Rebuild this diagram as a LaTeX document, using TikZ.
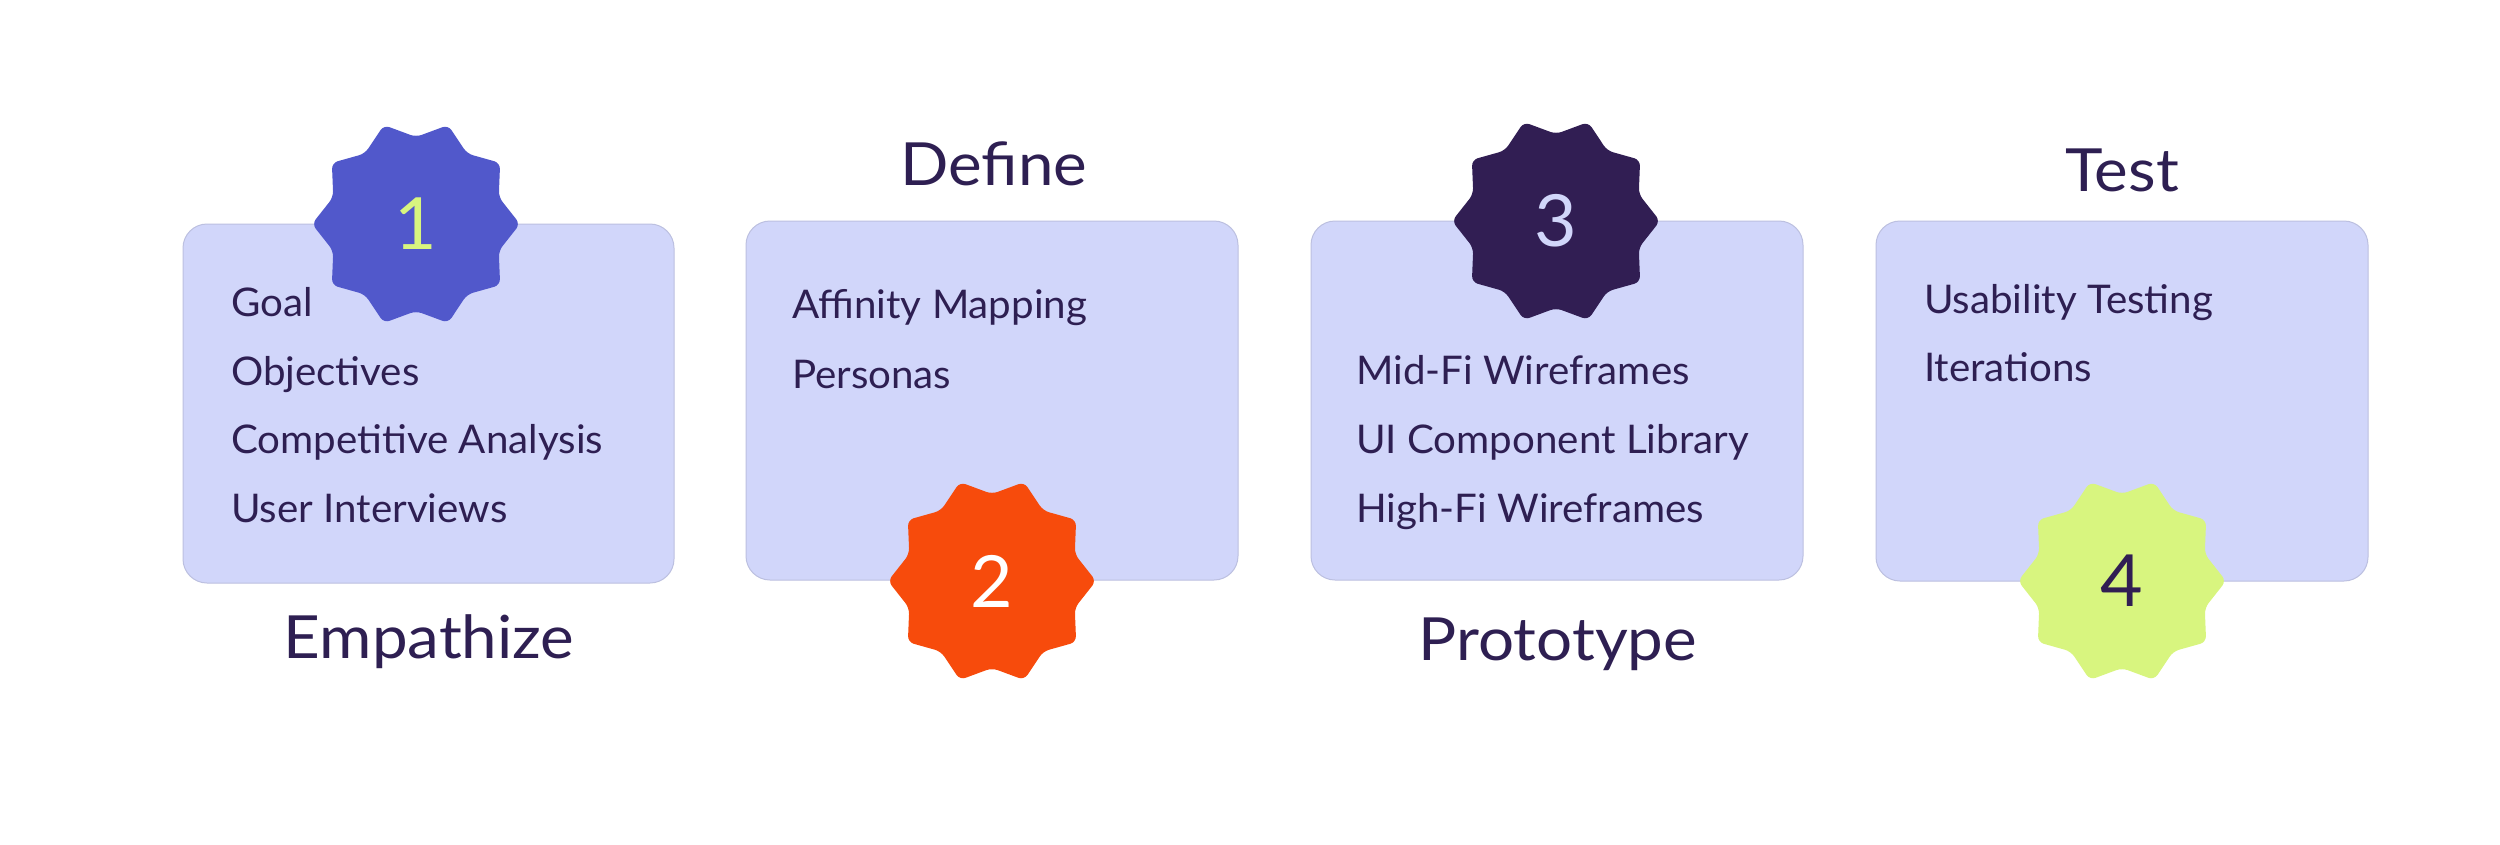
\documentclass[tikz,border=0pt]{standalone}
\usepackage{fontspec}
\setmainfont{Lato}[FakeStretch=1.02]
\newfontfamily\titlefont{Lato}[FakeStretch=1.07]
\definecolor{ink}{HTML}{2E1F52}
\definecolor{boxfill}{HTML}{D1D6FA}
\definecolor{boxline}{HTML}{BCC0E0}
\definecolor{cblue}{HTML}{5158CB}
\definecolor{corange}{HTML}{F74B0C}
\definecolor{cdark}{HTML}{311E53}
\definecolor{clime}{HTML}{D8F57F}
\tikzset{
  card/.style={fill=boxfill, draw=boxline, line width=1pt, rounded corners=24pt},
  item/.style={anchor=base west, inner sep=0pt, text=ink, font=\fontsize{39.5}{46}\selectfont},
  title/.style={anchor=base, inner sep=0pt, text=ink, font=\titlefont\fontsize{59.5}{66}\selectfont},
  num/.style={inner sep=0pt, font=\fontsize{72}{80}\selectfont},
}
\newcommand{\badge}[3]{%
  \fill[#3, rounded corners=6pt] ({#1+104},{#2})
    \foreach \k [evaluate=\k as \r using {mod(\k,2)==0 ? 104 : 87}] in {1,...,19}
      { -- ({#1+\r*cos(18*\k)},{#2+\r*sin(18*\k)}) } -- cycle;
}
\begin{document}
\begin{tikzpicture}[x=1pt,y=-1pt]
\useasboundingbox[fill=white] (0,0) rectangle (2500,844);

% cards
\path[card] (183,224) rectangle (674,583);
\path[card] (746,221) rectangle (1238,580);
\path[card] (1311,221) rectangle (1803,580);
\path[card] (1876,221) rectangle (2368,581);

% items
\node[item] (g1) at (231,316) {Goal};
\node[item] (g2) at (231,385) {Objectives};
\node[item] (g3) at (231,453) {Competitive Analysis};
\node[item] (g4) at (231,522) {User Interviews};

\node[item] (d1) at (792,318) {Affinity Mapping};
\node[item] (d2) at (792,388) {Personas};

\node[item] (p1) at (1356,384) {Mid-Fi Wireframes};
\node[item] (p2) at (1356,453) {UI Component Library};
\node[item] (p3) at (1356,522) {High-Fi Wireframes};

\node[item] (t1) at (1924,313) {Usability Testing};
\node[item] (t2) at (1924,381) {Iterations};

% badges
\badge{416}{224}{cblue}
\badge{992}{581}{corange}
\badge{1556}{221}{cdark}
\badge{2122}{581}{clime}

\node[num, text=clime] (n1) at (416,224) {1};
\node[num, text=white] (n2) at (992,581) {2};
\node[num, text=boxfill] (n3) at (1556,221) {3};
\node[num, text=cdark] (n4) at (2122,581) {4};

% titles
\node[title] (e) at (429,658) {Empathize};
\node[title] (d) at (994,185) {Define};
\node[title] (p) at (1558,660) {Prototype};
\node[title] (t) at (2122,191) {Test};
\end{tikzpicture}
\end{document}
